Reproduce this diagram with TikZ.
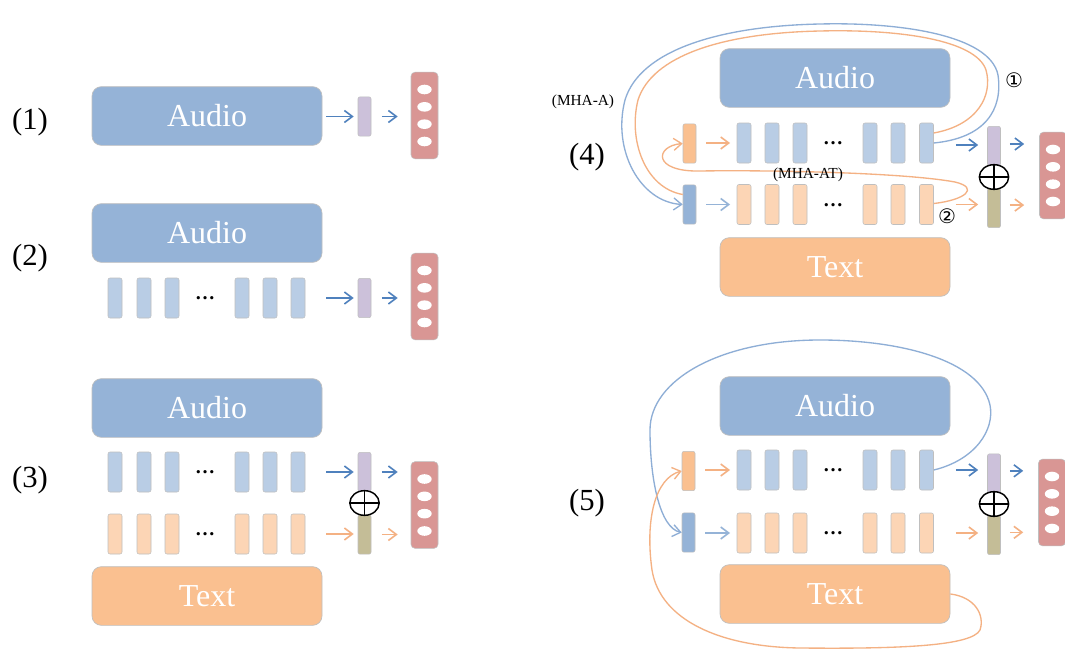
\documentclass[tikz,border=0pt]{standalone}
\usepackage{fontspec}
\setmainfont{Liberation Serif}
\newfontfamily\dejavu{DejaVu Sans}
\usetikzlibrary{arrows.meta,shapes.geometric,calc}
\definecolor{audioC}{HTML}{95B3D7}
\definecolor{textC}{HTML}{FAC090}
\definecolor{bbarC}{HTML}{B9CDE5}
\definecolor{obarC}{HTML}{FCD5B5}
\definecolor{purpleC}{HTML}{CCC1DA}
\definecolor{oliveC}{HTML}{C4BD97}
\definecolor{redC}{HTML}{D99694}
\definecolor{arrowB}{HTML}{4F81BD}
\definecolor{arrowO}{HTML}{F4B183}
\definecolor{curveB}{HTML}{8EAED6}
\definecolor{curveO}{HTML}{F4B183}
\definecolor{borderC}{HTML}{BFBFBF}
\tikzset{
 bigbox/.style={rectangle, rounded corners=7pt, draw=borderC, line width=0.5pt, minimum width=172.5pt, minimum height=44pt, inner sep=0pt, text=white, font=\fontsize{24}{24}\selectfont},
 audiobox/.style={bigbox, fill=audioC},
 textbox/.style={bigbox, fill=textC},
 barbase/.style={rectangle, rounded corners=1.5pt, draw=borderC, line width=0.4pt, minimum width=10.5pt, minimum height=30pt, inner sep=0pt},
 bbar/.style={barbase, fill=bbarC},
 obar/.style={barbase, fill=obarC},
 sobar/.style={barbase, fill=textC, minimum width=9.75pt, minimum height=29.5pt},
 sbbar/.style={barbase, fill=audioC, minimum width=9.75pt, minimum height=29.5pt},
 pbar/.style={barbase, fill=purpleC, minimum width=9.75pt, minimum height=29.5pt},
 gbar/.style={barbase, fill=oliveC, minimum width=9.75pt, minimum height=29.5pt},
 outbox/.style={rectangle, rounded corners=3pt, draw=borderC, line width=0.4pt, fill=redC, minimum width=20.25pt, minimum height=65pt, inner sep=0pt,
   path picture={\foreach \yy in {-19.5pt,-6.5pt,6.5pt,19.5pt}{\fill[white] ([yshift=\yy]path picture bounding box.center) ellipse [x radius=5.4pt, y radius=3.6pt];}}},
 plusc/.style={ellipse, draw=black, line width=1.1pt, fill=white, minimum width=22pt, minimum height=18.5pt, inner sep=0pt},
 dotsn/.style={font=\bfseries\fontsize{15}{15}\selectfont, inner sep=0pt},
 lab/.style={font=\fontsize{23}{23}\selectfont},
 smalllab/.style={font=\fontsize{11.5}{11.5}\selectfont, inner sep=0pt},
 circnum/.style={font=\dejavu\fontsize{15}{15}\selectfont, inner sep=0pt},
 arrB/.style={draw=arrowB, line width=1.2pt, -{Straight Barb[length=6pt,width=9pt]}},
 arrO/.style={draw=arrowO, line width=1.2pt, -{Straight Barb[length=6pt,width=9pt]}},
 arrBl/.style={draw=audioC, line width=1.2pt, -{Straight Barb[length=6pt,width=9pt]}},
 crvB/.style={draw=curveB, line width=1pt},
 crvO/.style={draw=curveO, line width=1pt},
 tipc/.style={-{Straight Barb[length=6pt,width=9pt]}},
}
\begin{document}
\begin{tikzpicture}[x=0.75pt,y=-0.75pt]
\useasboundingbox[fill=white] (0,0) rectangle (1065,653);

% ---------- Panel 1 ----------
\node[lab] (L1) at (30,122) {(1)};
\node[audiobox] (A1) at (207,116) {Audio};
\node[pbar] (P1) at (364.5,116.5) {};
\node[outbox] (O1) at (424.5,115.5) {};
\draw[arrB, shorten <=3pt, shorten >=3pt] (A1.east |- P1.west) -- (P1.west);
\draw[arrB, shorten <=8pt, shorten >=9.75pt] (P1.east) -- (P1.east -| O1.west);

% ---------- Panel 2 ----------
\node[lab] (L2) at (30,258) {(2)};
\node[audiobox] (A2) at (207,233) {Audio};
\foreach \n/\x in {1/115,2/144,3/172,4/242,5/270,6/298}{\node[bbar] (B2\n) at (\x,298) {};}
\node[dotsn] (D2) at (205,298) {…};
\node[pbar] (P2) at (364.5,298) {};
\node[outbox] (O2) at (424.5,296.5) {};
\draw[arrB, shorten <=15.75pt, shorten >=3pt] (B26.east) -- (P2.west);
\draw[arrB, shorten <=8pt, shorten >=9.75pt] (P2.east) -- (P2.east -| O2.west);

% ---------- Panel 3 ----------
\node[lab] (L3) at (30,480) {(3)};
\node[audiobox] (A3) at (207,408) {Audio};
\foreach \n/\x in {1/115,2/144,3/172,4/242,5/270,6/298}{
  \node[bbar] (B3\n) at (\x,472) {};
  \node[obar] (C3\n) at (\x,534) {};}
\node[dotsn] (D3a) at (205,472) {…};
\node[dotsn] (D3b) at (205,534) {…};
\node[textbox] (T3) at (207,596) {Text};
\node[pbar] (P3) at (364.5,472) {};
\node[gbar] (G3) at (364.5,534.5) {};
\node[outbox] (O3) at (424.5,505) {};
\node[plusc] (X3) at (364.5,503) {};
\draw[line width=1.1pt] (X3.north) -- (X3.south) (X3.west) -- (X3.east);
\draw[arrB, shorten <=15.75pt, shorten >=3pt] (B36.east) -- (B36.east -| P3.west);
\draw[arrO, shorten <=15.75pt, shorten >=3pt] (C36.east) -- (C36.east -| G3.west);
\draw[arrB, shorten <=8pt, shorten >=9.75pt] (P3.east) -- (P3.east -| O3.west);
\draw[arrO, shorten <=8pt, shorten >=9.75pt] (G3.east) -- (G3.east -| O3.west);

% ---------- Panel 4 ----------
\node[lab] (L4) at (587,157) {(4)};
\node[audiobox] (A4) at (835,78) {Audio};
\node[sobar] (SO4) at (689.5,143.5) {};
\node[sbbar] (SB4) at (689.5,204.5) {};
\foreach \n/\x in {1/744,2/772,3/800,4/870,5/898,6/926.5}{
  \node[bbar] (B4\n) at (\x,143) {};
  \node[obar] (C4\n) at (\x,204.5) {};}
\node[dotsn] (D4a) at (833,143) {…};
\node[dotsn] (D4b) at (833,205) {…};
\node[textbox] (T4) at (835,267) {Text};
\node[pbar] (P4) at (994,146) {};
\node[gbar] (G4) at (994,208) {};
\node[outbox] (O4) at (1053,175.5) {};
\node[plusc] (X4) at (994,177) {};
\draw[line width=1.1pt] (X4.north) -- (X4.south) (X4.west) -- (X4.east);
\draw[arrO, shorten <=7.5pt, shorten >=5pt] (SO4.east |- B41.west) -- (B41.west);
\draw[arrBl, shorten <=7.5pt, shorten >=5pt] (SB4.east |- C41.west) -- (C41.west);
\draw[arrB, shorten <=16.5pt, shorten >=6.75pt] ([yshift=-1.5pt]B46.east) -- ([yshift=-1.5pt]B46.east -| P4.west);
\draw[arrO, shorten <=16.5pt, shorten >=6.75pt] (C46.east) -- (C46.east -| G4.west);
\draw[arrB, shorten <=6.75pt, shorten >=11.25pt] ([yshift=1.5pt]P4.east) -- ([yshift=1.5pt]P4.east -| O4.west);
\draw[arrO, shorten <=6.75pt, shorten >=11.25pt] ([yshift=2.2pt]G4.east) -- ([yshift=2.2pt]G4.east -| O4.west);
% curves
\draw[crvB, tipc] (B46.east) .. controls (985,138) and (1003,110) .. (998,75)
   .. controls (990,35) and (900,22) .. (820,24)
   .. controls (720,26) and (640,50) .. (625,100)
   .. controls (612,150) and (640,202) .. (SB4.west);
\draw[crvO] ($(B46.east)+(0,-10)$) .. controls (978,125) and (993,95) .. (986,70)
   .. controls (976,40) and (900,29) .. (820,31)
   .. controls (722,33) and (652,56) .. (638,100)
   .. controls (628,140) and (645,188) .. ($(SB4.west)+(0,-10)$);
\draw[crvO, tipc] ($(C46.east)+(0,-1)$) .. controls (965,200) and (980,188) .. (955,182)
   .. controls (900,172) and (760,170) .. (700,171)
   .. controls (652,172) and (655,146) .. (SO4.west);
\node[smalllab] (MA) at (583,102) {(MHA-A)};
\node[smalllab] (MAT) at (808,175) {(MHA-AT)};
\node[circnum] (N1) at (1014,80) {①};
\node[circnum] (N2) at (947,216) {②};

% ---------- Panel 5 ----------
\node[lab] (L5) at (587,503) {(5)};
\node[audiobox] (A5) at (835,406) {Audio};
\node[sobar] (SO5) at (688.5,471) {};
\node[sbbar] (SB5) at (688.5,532.5) {};
\foreach \n/\x in {1/744,2/772,3/800,4/870,5/898,6/926.5}{
  \node[bbar] (B5\n) at (\x,470) {};
  \node[obar] (C5\n) at (\x,533) {};}
\node[dotsn] (D5a) at (833,470) {…};
\node[dotsn] (D5b) at (833,533) {…};
\node[textbox] (T5) at (835,594) {Text};
\node[pbar] (P5) at (994,473.5) {};
\node[gbar] (G5) at (994,535) {};
\node[outbox] (O5) at (1052,502.5) {};
\node[plusc] (X5) at (994,504) {};
\draw[line width=1.1pt] (X5.north) -- (X5.south) (X5.west) -- (X5.east);
\draw[arrO, shorten <=7.5pt, shorten >=5pt] (SO5.east |- B51.west) -- (B51.west);
\draw[arrBl, shorten <=7.5pt, shorten >=5pt] (SB5.east |- C51.west) -- (C51.west);
\draw[arrB, shorten <=16.5pt, shorten >=6.75pt] (B56.east) -- (B56.east -| P5.west);
\draw[arrO, shorten <=16.5pt, shorten >=6.75pt] (C56.east) -- (C56.east -| G5.west);
\draw[arrB, shorten <=6.75pt, shorten >=11.25pt] ([yshift=2pt]P5.east) -- ([yshift=2pt]P5.east -| O5.west);
\draw[arrO, shorten <=6.75pt, shorten >=11.25pt] ([yshift=2pt]G5.east) -- ([yshift=2pt]G5.east -| O5.west);
\draw[crvB, tipc] (B56.east) .. controls (975,460) and (995,430) .. (990,405)
   .. controls (980,360) and (900,340) .. (820,340)
   .. controls (720,340) and (650,380) .. (650,430)
   .. controls (650,480) and (660,528) .. (SB5.west);
\draw[crvO, tipc] (T5.east) .. controls (975,597) and (985,615) .. (980,630)
   .. controls (972,646) and (900,649) .. (800,648)
   .. controls (720,647) and (660,620) .. (652,570)
   .. controls (645,520) and (655,478) .. (SO5.west);
\end{tikzpicture}
\end{document}
